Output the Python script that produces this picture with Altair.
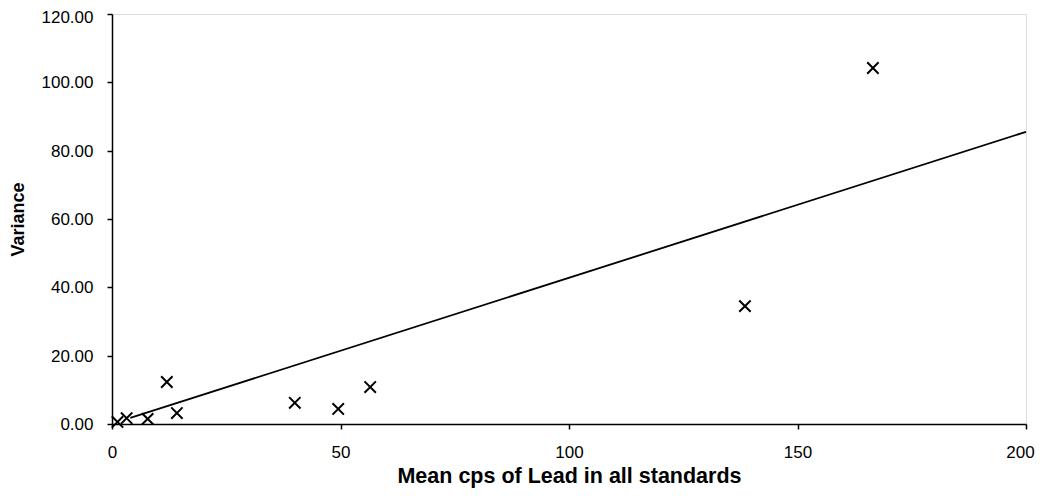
import altair as alt
import pandas as pd

# Scatter data: mean cps of lead vs variance
mean_cps = [1.2, 3.2, 7.8, 12.0, 14.2, 40.0, 49.5, 56.5, 138.5, 166.5]
variance = [0.6, 1.7, 1.5, 12.3, 3.2, 6.2, 4.4, 10.8, 34.5, 104.2]

# Trend line end points
trend_x = [4.0, 200.0]
trend_y = [1.8, 85.5]

x_ticks = [0, 50, 100, 150, 200]
y_ticks = [0, 20, 40, 60, 80, 100, 120]

pts = pd.DataFrame({"x": mean_cps, "y": variance})
trend = pd.DataFrame({"x": trend_x, "y": trend_y})

FONT = "Liberation Sans"

x_enc = alt.X(
    "x:Q",
    scale=alt.Scale(domain=[0, 200], nice=False, zero=True),
    axis=alt.Axis(
        values=x_ticks, format="d", title="Mean cps of Lead in all standards",
        grid=False, domainColor="black", domainWidth=1.5, tickColor="black",
        tickWidth=1.5, tickSize=5, labelFont=FONT, labelFontSize=17,
        labelColor="black", labelPadding=15,
        labelOffset={"condition": {"test": "datum.value == 200", "value": -6}, "value": 0},
        titleFont=FONT, titleFontSize=21.5,
        titleFontWeight="bold", titleColor="black", titleY=41,
        titleBaseline="top", labelFlush=False,
    ),
)
y_enc = alt.Y(
    "y:Q",
    scale=alt.Scale(domain=[0, 120], nice=False),
    axis=alt.Axis(
        values=y_ticks, format=".2f", title="Variance",
        grid=False, domainColor="black", domainWidth=1.5, tickColor="black",
        tickWidth=1.5, tickSize=5, labelFont=FONT, labelFontSize=17,
        labelColor="black", labelPadding=14,
        labelOffset={"condition": {"test": "datum.value == 120", "value": 3}, "value": 0.5},
        titleFont=FONT, titleFontSize=18,
        titleFontWeight="bold", titleColor="black", titleX=-85, titleY=205,
        titleAngle=270, titleBaseline="bottom", labelFlush=False,
    ),
)

points = alt.Chart(pts).mark_point(
    shape="M-1,-1L1,1M-1,1L1,-1", size=130, strokeWidth=2,
    color="black", filled=False, opacity=1,
).encode(x=x_enc, y=y_enc)

line = alt.Chart(trend).mark_line(color="black", strokeWidth=1.8).encode(
    x="x:Q", y="y:Q"
)

chart = (
    alt.layer(line, points)
    .properties(
        width=914, height=410,
        autosize=alt.AutoSizeParams(type="none"),
        padding={"left": 104, "top": 6, "right": 10, "bottom": 64},
    )
    .configure_view(stroke=None)
    .configure(background="white")
)

chart.save("out.html", embed_options={"renderer": "svg", "actions": False})
